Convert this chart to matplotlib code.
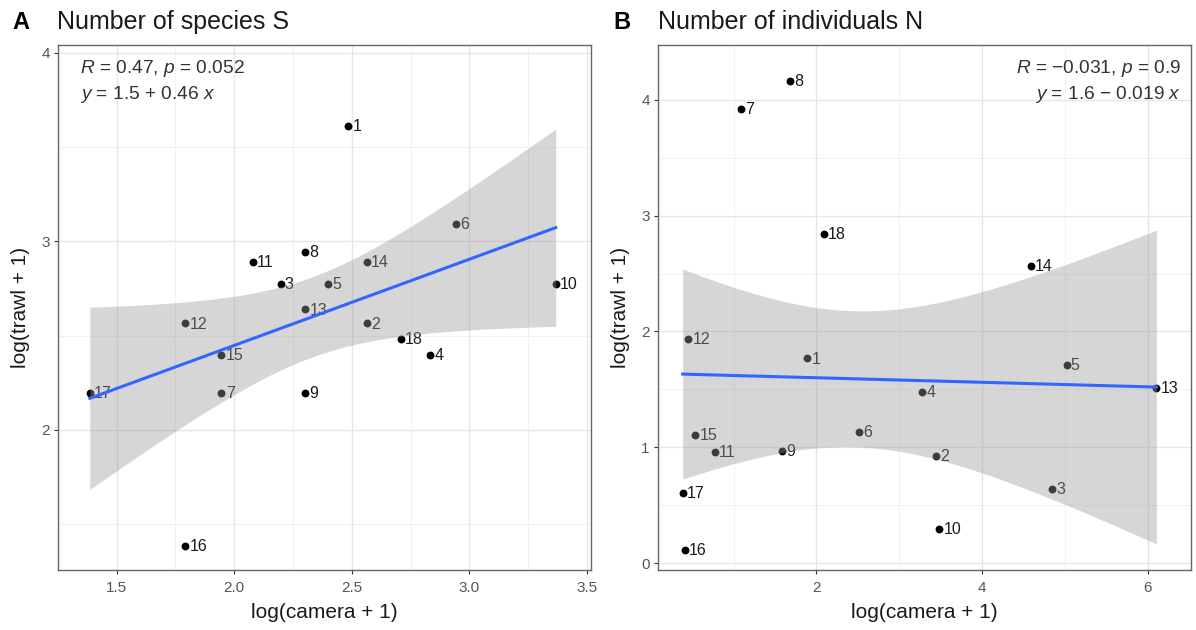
import numpy as np
import matplotlib.pyplot as plt

plt.rcParams['font.family'] = ['Liberation Sans', 'DejaVu Sans']
plt.rcParams['mathtext.fontset'] = 'custom'
plt.rcParams['mathtext.rm'] = 'Liberation Sans'
plt.rcParams['mathtext.it'] = 'Liberation Sans:italic'

# station ids and log-transformed counts
stations = [str(i) for i in range(1, 19)]

sp_camera = [2.485, 2.565, 2.197, 2.833, 2.398, 2.944, 1.946, 2.303, 2.303,
             3.367, 2.079, 1.792, 2.303, 2.565, 1.946, 1.792, 1.386, 2.708]
sp_trawl = [3.611, 2.565, 2.773, 2.398, 2.773, 3.091, 2.197, 2.944, 2.197,
            2.773, 2.890, 2.565, 2.639, 2.890, 2.398, 1.386, 2.197, 2.485]

ind_camera = [1.889, 3.438, 4.841, 3.274, 5.018, 2.513, 1.093, 1.677, 1.580,
              3.482, 0.770, 0.451, 6.102, 4.588, 0.535, 0.407, 0.385, 2.088]
ind_trawl = [1.768, 0.928, 0.643, 1.478, 1.710, 1.130, 3.922, 4.163, 0.971,
             0.296, 0.957, 1.936, 1.513, 2.564, 1.107, 0.116, 0.603, 2.840]

stats_sp = [r'$R$ = 0.47, $p$ = 0.052', r'$y$ = 1.5 + 0.46 $x$']
stats_ind = [r'$R$ = −0.031, $p$ = 0.9', r'$y$ = 1.6 − 0.019 $x$']

T_CRIT = 2.12  # t(0.975, df = 16)


def lm_band(x, y, n_grid=100):
    x = np.asarray(x)
    y = np.asarray(y)
    slope, intercept = np.polyfit(x, y, 1)
    resid = y - (intercept + slope * x)
    s = np.sqrt(np.sum(resid ** 2) / (len(x) - 2))
    xg = np.linspace(x.min(), x.max(), n_grid)
    yg = intercept + slope * xg
    se = s * np.sqrt(1 / len(x) + (xg - x.mean()) ** 2 / np.sum((x - x.mean()) ** 2))
    return xg, yg, yg - T_CRIT * se, yg + T_CRIT * se


def panel(ax, x, y, xlim, ylim, xmajor, ymajor, xminor, yminor):
    for v in xminor:
        ax.axvline(v, color='#EFEFEF', lw=0.6, zorder=0)
    for v in yminor:
        ax.axhline(v, color='#EFEFEF', lw=0.6, zorder=0)
    for v in xmajor:
        ax.axvline(v, color='#E6E6E6', lw=1.0, zorder=0)
    for v in ymajor:
        ax.axhline(v, color='#E6E6E6', lw=1.0, zorder=0)

    ax.scatter(x, y, s=32, color='black', zorder=2, linewidths=0)
    for xi, yi, lab in zip(x, y, stations):
        ax.annotate(lab, (xi, yi), xytext=(3, -0.5), textcoords='offset points',
                    ha='left', va='center', fontsize=11.5, color='#1a1a1a', zorder=2)

    xg, yg, lo, hi = lm_band(x, y)
    ax.fill_between(xg, lo, hi, color='#999999', alpha=0.4, lw=0, zorder=3)
    ax.plot(xg, yg, color='#3366FF', lw=2.2, zorder=4)

    ax.set_xlim(*xlim)
    ax.set_ylim(*ylim)
    ax.set_xticks(xmajor)
    ax.set_yticks(ymajor)
    ax.tick_params(length=3, width=0.8, color='#333333', labelcolor='#555555',
                   labelsize=11)
    ax.tick_params(axis='x', pad=5)
    ax.tick_params(axis='y', pad=3)
    for sp in ax.spines.values():
        sp.set_color('#666666')
        sp.set_linewidth(1.0)


fig = plt.figure(figsize=(11.96, 6.3), dpi=100)
ax1 = fig.add_axes([58 / 1196, 60 / 630, 533 / 1196, 525 / 630])
ax2 = fig.add_axes([658 / 1196, 60 / 630, 533 / 1196, 525 / 630])

panel(ax1, sp_camera, sp_trawl, (1.251, 3.517), (1.257, 4.042),
      [1.5, 2.0, 2.5, 3.0, 3.5], [2, 3, 4],
      [1.25, 1.75, 2.25, 2.75, 3.25], [1.5, 2.5, 3.5])
ax1.set_xticklabels(['1.5', '2.0', '2.5', '3.0', '3.5'])

panel(ax2, ind_camera, ind_trawl, (0.087, 6.52), (-0.06, 4.474),
      [2, 4, 6], [0, 1, 2, 3, 4],
      [1, 3, 5], [0.5, 1.5, 2.5, 3.5])

# regression statistics
ax1.text(0.041, 0.956, stats_sp[0], transform=ax1.transAxes, ha='left', va='center',
         fontsize=13.8, color='#333333', zorder=5)
ax1.text(0.041, 0.905, stats_sp[1], transform=ax1.transAxes, ha='left', va='center',
         fontsize=13.8, color='#333333', zorder=5)
ax2.text(0.981, 0.956, stats_ind[0], transform=ax2.transAxes, ha='right', va='center',
         fontsize=13.8, color='#333333', zorder=5)
ax2.text(0.981, 0.905, stats_ind[1], transform=ax2.transAxes, ha='right', va='center',
         fontsize=13.8, color='#333333', zorder=5)

# panel letters and titles
fig.text(12 / 1196, 1 - 29 / 630, 'A', fontsize=17, fontweight='bold', va='baseline')
fig.text(57 / 1196, 1 - 29 / 630, 'Number of species S', fontsize=18, va='baseline',
         color='#1a1a1a')
fig.text(613 / 1196, 1 - 29 / 630, 'B', fontsize=17, fontweight='bold', va='baseline')
fig.text(658 / 1196, 1 - 29 / 630, 'Number of individuals N', fontsize=18, va='baseline',
         color='#1a1a1a')

# axis titles
for xc in (324.5, 924.5):
    fig.text(xc / 1196, 1 - 612 / 630, 'log(camera + 1)', fontsize=15,
             ha='center', va='center', color='#1a1a1a')
for xc in (20.5, 620.5):
    fig.text(xc / 1196, 1 - 307.5 / 630, 'log(trawl + 1)', fontsize=15,
             ha='center', va='center', rotation=90, color='#1a1a1a')

fig.savefig('out.png', dpi=100)
